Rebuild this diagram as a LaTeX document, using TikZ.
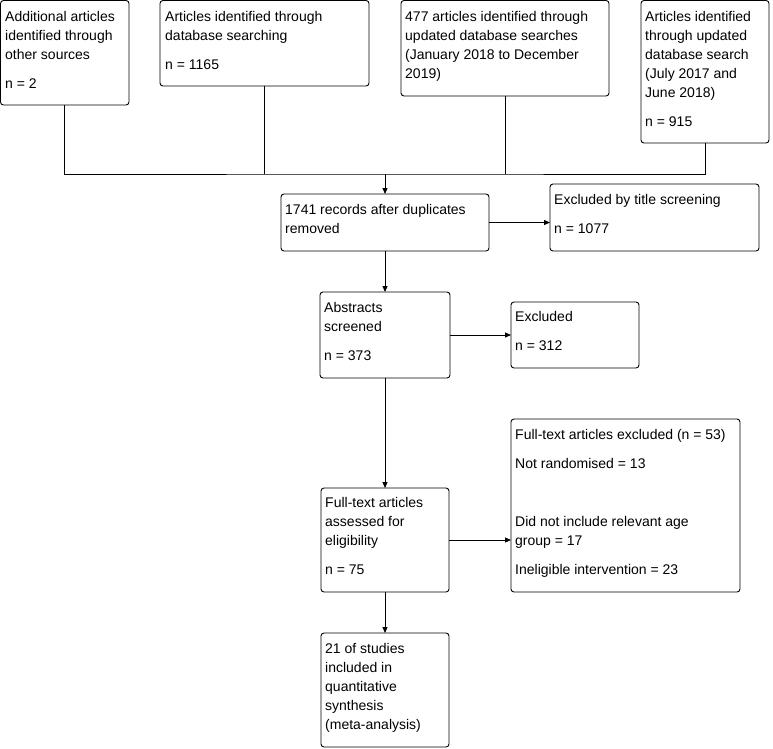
\documentclass[tikz,border=0pt]{standalone}
\usepackage{fontspec}
\setmainfont{Liberation Sans}
\usetikzlibrary{arrows.meta}
\begin{document}
\begin{tikzpicture}[x=1pt,y=-1pt,
  box/.style={draw, line width=0.9pt, rounded corners=3pt, anchor=north west, inner sep=0pt, outer sep=0pt},
  txt/.style={anchor=north west, inner sep=0pt, align=left, font=\fontsize{14}{19}\selectfont},
  conn/.style={draw, line width=0.9pt},
  arr/.style={conn, -{Triangle[length=6pt,width=5pt]}}]
\useasboundingbox (0,0) rectangle (773,748);
% boxes
\node[box, minimum width=128.5pt, minimum height=104.5pt] (A) at (0.5,0.5) {};
\node[box, minimum width=209pt, minimum height=85.5pt] (B) at (160,0.5) {};
\node[box, minimum width=208pt, minimum height=95.5pt] (C) at (401,0.5) {};
\node[box, minimum width=128pt, minimum height=142.5pt] (D) at (641,0.5) {};
\node[box, minimum width=208pt, minimum height=57pt] (E) at (281,194) {};
\node[box, minimum width=209pt, minimum height=67pt] (F) at (550,184) {};
\node[box, minimum width=130pt, minimum height=86pt] (G) at (320,292) {};
\node[box, minimum width=128pt, minimum height=66pt] (H) at (511,302) {};
\node[box, minimum width=128pt, minimum height=104pt] (I) at (321,488) {};
\node[box, minimum width=229pt, minimum height=173pt] (J) at (511,419) {};
\node[box, minimum width=128pt, minimum height=114pt] (K) at (321,633) {};
% texts
\node[txt] (At) at (5,10) {\rule{0pt}{11pt}Additional articles\\identified through\\other sources\\[10pt]n = 2};
\node[txt] (Bt) at (165,10) {\rule{0pt}{11pt}Articles identified through\\database searching\\[10pt]n = 1165};
\node[txt] (Ct) at (405,10) {\rule{0pt}{11pt}477 articles identified through\\updated database searches\\(January 2018 to December\\2019)};
\node[txt] (Dt) at (645,10) {\rule{0pt}{11pt}Articles identified\\through updated\\database search\\(July 2017 and\\June 2018)\\[10pt]n = 915};
\node[txt] (Et) at (285,203.5) {\rule{0pt}{11pt}1741 records after duplicates\\removed};
\node[txt] (Ft) at (554,193.5) {\rule{0pt}{11pt}Excluded by title screening\\[10pt]n = 1077};
\node[txt] (Gt) at (324,301.5) {\rule{0pt}{11pt}Abstracts\\screened\\[10pt]n = 373};
\node[txt] (Ht) at (515,310.5) {\rule{0pt}{11pt}Excluded\\[10pt]n = 312};
\node[txt] (It) at (325,496.5) {\rule{0pt}{11pt}Full-text articles\\assessed for\\eligibility\\[10pt]n = 75};
\node[txt] (Jt) at (515,428.5) {\rule{0pt}{11pt}Full-text articles excluded (n = 53)\\[10pt]Not randomised = 13\\[39pt]Did not include relevant age\\group = 17\\[10pt]Ineligible intervention = 23};
\node[txt] (Kt) at (325,642.5) {\rule{0pt}{11pt}21 of studies\\included in\\quantitative\\synthesis\\(meta-analysis)};
% connectors
\coordinate (j) at (385,174);
\draw[conn] (A.south) |- (j) -| (D.south);
\draw[conn] (B.south) -- (B.south |- j);
\draw[conn] (C.south) -- (C.south |- j);
\draw[arr] (j) -- (E.north);
\draw[arr] (E.east) -- (E.east -| F.west);
\draw[arr] (E.south) -- (G.north);
\draw[arr] (G.east) -- (G.east -| H.west);
\draw[arr] (G.south) -- (I.north);
\draw[arr] (I.east) -- (I.east -| J.west);
\draw[arr] (I.south) -- (K.north);
\end{tikzpicture}
\end{document}
